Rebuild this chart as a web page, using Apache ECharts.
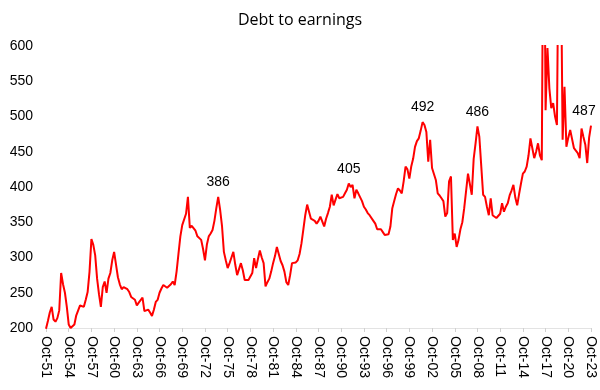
<!DOCTYPE html>
<html>
<head>
<meta charset="utf-8">
<script src="https://cdn.jsdelivr.net/npm/echarts@6/dist/echarts.min.js"></script>
<style>
html,body{margin:0;padding:0;background:#fff;}
#chart{width:600px;height:390px;}
</style>
</head>
<body>
<div id="chart"></div>
<script>
// Quarterly series, first point Oct-1951
const startYear = 1951;
const startMonthIndex = 9; // October
const monthNames = ['Jan','Feb','Mar','Apr','May','Jun','Jul','Aug','Sep','Oct','Nov','Dec'];

const debtToEarnings = [
  199,210,222,230,212,209,214,225,278,262,
  250,230,205,200,202,205,218,225,232,233,
  230,240,251,280,326,318,303,270,248,230,
  258,266,250,270,278,296,308,290,272,262,
  255,258,260,255,251,244,243,240,232,236,
  238,243,224,226,226,222,217,226,237,240,
  250,256,261,259,257,256,262,266,261,280,
  305,330,346,348,362,386,342,345,347,338,
  330,328,325,312,296,318,330,334,339,352,
  370,386,368,345,308,296,285,292,300,308,
  290,275,273,292,282,268,270,268,266,278,
  299,285,298,310,300,292,259,265,270,280,
  292,302,315,305,295,289,280,265,261,275,
  292,290,293,296,305,320,340,360,375,365,
  355,353,352,348,352,358,356,344,355,363,
  372,389,374,382,390,384,385,386,391,396,
  405,400,403,384,396,391,389,380,372,368,
  363,360,358,352,348,340,339,340,336,332,
  332,333,344,370,380,390,398,395,391,408,
  429,425,412,429,440,457,465,469,480,492,
  488,478,436,467,427,427,410,391,388,384,
  380,358,363,408,415,325,334,315,325,340,
  350,370,372,419,419,389,440,462,486,471,
  430,389,386,372,360,384,360,358,356,355,
  362,377,365,372,377,388,395,403,385,374,
  390,405,419,422,429,445,469,455,441,450,
  462,445,438,900,509,597,540,512,519,500,
  488,800,760,467,542,457,470,481,481,455,
  455,448,441,483,471,460,434,470,487
];

// indexes of points carrying a value label
const labelledPoints = [91, 160, 199, 228, 288];

const categories = [];
for (let i = 0; i < debtToEarnings.length; i++) {
  const m = startMonthIndex + i * 3;
  const y = startYear + Math.floor(m / 12);
  categories.push(monthNames[m % 12] + '-' + String(y % 100).padStart(2, '0'));
}

const markData = labelledPoints.map((i) => ({
  coord: [categories[i], debtToEarnings[i]],
  value: debtToEarnings[i],
  label: {offset: i === debtToEarnings.length - 1 ? [-7, 0] : [0, 0]}
}));

const chart = echarts.init(document.getElementById('chart'), null, {renderer: 'canvas'});
chart.setOption({
  animation: false,
  backgroundColor: '#fff',
  title: {
    text: 'Debt to earnings',
    left: 'center',
    top: 7,
    textStyle: {
      fontSize: 16,
      fontWeight: 'normal',
      color: '#000',
      fontFamily: 'Open Sans, Liberation Sans, sans-serif'
    }
  },
  grid: {left: 46, right: 9, top: 46, bottom: 62, containLabel: false},
  xAxis: {
    type: 'category',
    data: categories,
    boundaryGap: false,
    axisLine: {show: true, lineStyle: {color: '#e3e3e3', width: 1}},
    axisTick: {
      show: true,
      interval: (idx) => idx % 12 === 0,
      length: 4,
      lineStyle: {color: '#d0d0d0'}
    },
    axisLabel: {
      interval: (idx) => idx % 12 === 0,
      rotate: -90,
      margin: 8,
      color: '#000',
      fontSize: 14,
      fontFamily: 'Liberation Sans, Arial, sans-serif'
    },
    splitLine: {show: false}
  },
  yAxis: {
    type: 'value',
    min: 200,
    max: 600,
    interval: 50,
    axisLine: {show: false},
    axisTick: {show: false},
    splitLine: {show: false},
    axisLabel: {
      margin: 13,
      color: '#000',
      fontSize: 14,
      fontFamily: 'Liberation Sans, Arial, sans-serif'
    }
  },
  series: [{
    type: 'line',
    data: debtToEarnings,
    symbol: 'none',
    clip: true,
    lineStyle: {color: '#ff0000', width: 2},
    itemStyle: {color: '#ff0000'},
    markPoint: {
      symbol: 'circle',
      symbolSize: 1,
      itemStyle: {color: 'rgba(0,0,0,0)'},
      label: {
        show: true,
        position: 'top',
        distance: 7,
        color: '#000',
        fontSize: 14,
        fontFamily: 'Liberation Sans, Arial, sans-serif'
      },
      data: markData
    }
  }]
});
</script>
</body>
</html>
